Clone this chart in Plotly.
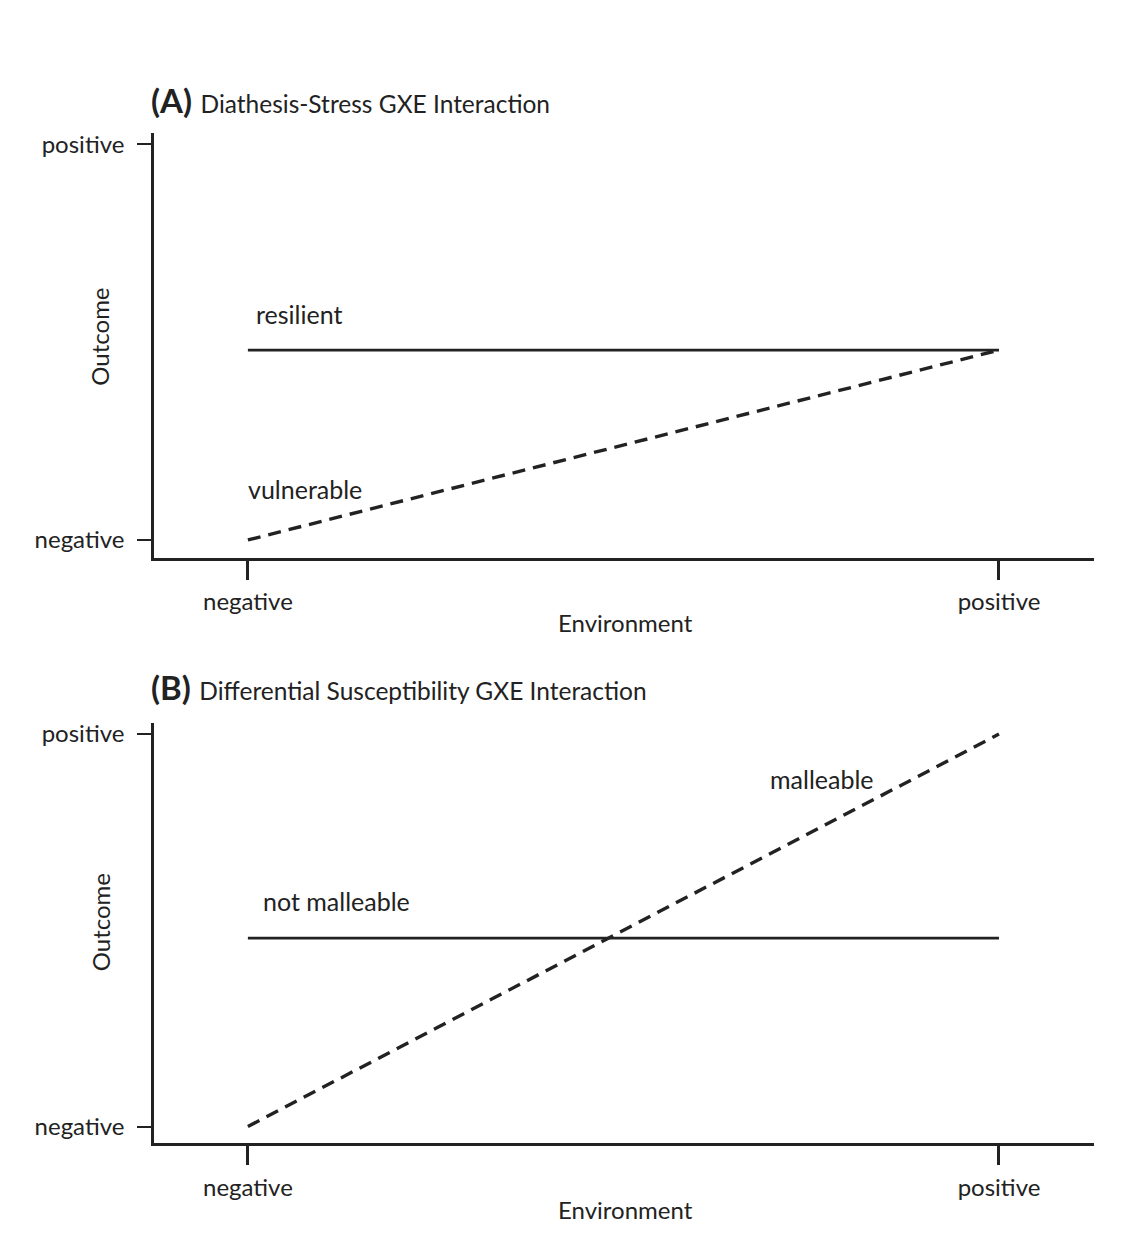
import plotly.graph_objects as go

# ---- data ----
env_x = [0, 1]                       # negative -> positive environment
resilient = [0.48, 0.48]
vulnerable = [0.0, 0.48]
not_malleable = [0.48, 0.48]
malleable = [0.0, 1.0]
tick_vals = [0, 1]
tick_text = ["negative", "positive"]

PAGE_W, PAGE_H = 1134, 1245
OFF = 8                      # default body margin of the html page
W, H = PAGE_W - 2 * OFF, PAGE_H - 2 * OFF
FONT = "Lato"
INK = "#222222"

def px_x(p):
    return (p - OFF) / W

def px_y(p):
    return 1 - (p - OFF) / H

fig = go.Figure()

line_solid = dict(color=INK, width=2.8)
line_dash = dict(color=INK, width=3.4, dash="13px,8px")

fig.add_trace(go.Scatter(x=env_x, y=resilient, mode="lines", line=line_solid,
                         xaxis="x", yaxis="y", showlegend=False, hoverinfo="skip"))
fig.add_trace(go.Scatter(x=env_x, y=vulnerable, mode="lines", line=line_dash,
                         xaxis="x", yaxis="y", showlegend=False, hoverinfo="skip"))
fig.add_trace(go.Scatter(x=env_x, y=not_malleable, mode="lines", line=line_solid,
                         xaxis="x2", yaxis="y2", showlegend=False, hoverinfo="skip"))
fig.add_trace(go.Scatter(x=env_x, y=malleable, mode="lines", line=line_dash,
                         xaxis="x2", yaxis="y2", showlegend=False, hoverinfo="skip"))

xdom = [px_x(154), px_x(1094)]
xrange_ = [-0.125, 1.1265]

def xaxis(anchor):
    return dict(domain=xdom, range=xrange_, anchor=anchor, showline=True,
                linecolor=INK, linewidth=2.6, showgrid=False, zeroline=False,
                tickmode="array", tickvals=tick_vals, ticktext=tick_text,
                ticks="outside", ticklen=19, tickwidth=2.6, tickcolor=INK,
                ticklabelstandoff=2,
                tickfont=dict(family=FONT, size=24, color=INK), fixedrange=True)

def yaxis(anchor, dom, rng):
    return dict(domain=dom, range=rng, anchor=anchor, showline=True,
                linecolor=INK, linewidth=2.6, showgrid=False, zeroline=False,
                tickmode="array", tickvals=tick_vals, ticktext=tick_text,
                ticks="outside", ticklen=14, tickwidth=2.2, tickcolor=INK,
                ticklabelstandoff=8,
                tickfont=dict(family=FONT, size=24, color=INK), fixedrange=True)

fig.update_layout(
    width=W, height=H,
    margin=dict(l=0, r=0, t=0, b=0),
    paper_bgcolor="white", plot_bgcolor="white",
    xaxis=xaxis("y"),
    yaxis=yaxis("x", [px_y(555), px_y(128)], [-0.045, 1.030]),
    xaxis2=xaxis("y2"),
    yaxis2=yaxis("x2", [px_y(1143), px_y(721)], [-0.043, 1.028]),
)

anns = []
def txt(x, y, text, xref, yref, size=25, xanchor="left", yanchor="middle", angle=0):
    anns.append(dict(x=x, y=y, text=text, xref=xref, yref=yref, showarrow=False,
                     xanchor=xanchor, yanchor=yanchor, textangle=angle,
                     font=dict(family=FONT, size=size, color=INK)))

# panel titles
txt(px_x(149), px_y(95), "<b>(A)</b> <span style='font-size:24.5px'>Diathesis-Stress GXE Interaction</span>",
    "paper", "paper", size=33)
txt(px_x(149), px_y(685), "<b>(B)</b> <span style='font-size:24.5px'>Differential Susceptibility GXE Interaction</span>",
    "paper", "paper", size=33)

# axis titles
txt(px_x(625), px_y(620), "Environment", "paper", "paper", size=24, xanchor="center")
txt(px_x(625), px_y(1209), "Environment", "paper", "paper", size=24, xanchor="center")
txt(px_x(100), px_y(333), "Outcome", "paper", "paper", size=24, xanchor="center", angle=-90)
txt(px_x(100), px_y(921), "Outcome", "paper", "paper", size=24, xanchor="center", angle=-90)

# series labels
txt(0.008, 0.572, "resilient", "x", "y")
txt(-0.002, 0.128, "vulnerable", "x", "y")
txt(0.018, 0.575, "not malleable", "x2", "y2")
txt(0.692, 0.886, "malleable", "x2", "y2")

fig.update_layout(annotations=anns)
fig.write_html("out.html")
